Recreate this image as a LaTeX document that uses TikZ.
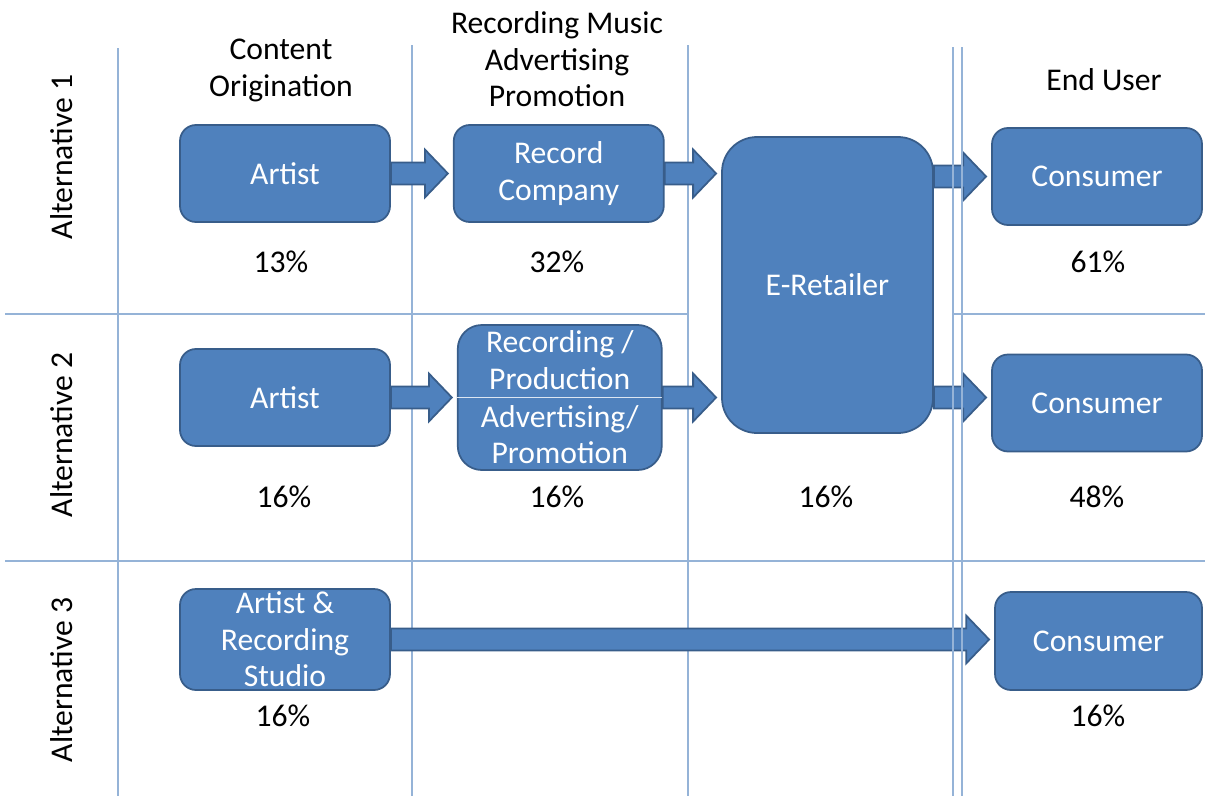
\documentclass[tikz,border=0pt]{standalone}
\usepackage{fontspec}
\setmainfont{Carlito}
\usetikzlibrary{positioning, calc}

\definecolor{boxfill}{HTML}{4F81BD}
\definecolor{boxline}{HTML}{385D8A}
\definecolor{gridc}{HTML}{95B3D7}
\definecolor{splitc}{HTML}{DCE6F2}

% flecha de bloque: del punto #1 hasta la punta en #2
\newcommand{\blockarrow}[2]{%
  \draw[barrow] ($(#1)+(0,-11)$) -- ($(#2)+(-28,-11)$) -- ($(#2)+(-28,-24)$)
     -- ($(#2)+(-5,0)$) -- ($(#2)+(-28,24)$) -- ($(#2)+(-28,11)$)
     -- ($(#1)+(0,11)$) -- cycle;}

\begin{document}
\begin{tikzpicture}[
    x=0.2mm, y=-0.2mm,
    font=\fontsize{18}{20.7}\selectfont,
    node distance = 25mm and 12.4mm,
    % --- estilos ---
    box/.style   = {rectangle, rounded corners=3.2mm, minimum width=42mm,
                    minimum height=19.4mm, align=center, inner sep=0pt,
                    draw=boxline, fill=boxfill, text=white, line width=1pt},
    pct/.style   = {align=center, inner sep=0pt},
    hdr/.style   = {align=center, inner sep=0pt},
    alt/.style   = {rotate=90, inner sep=0pt},
    gridline/.style = {draw=gridc, line width=0.8pt},
    barrow/.style   = {draw=boxline, fill=boxfill, line width=1pt, line join=miter}
]
\useasboundingbox (0,0) rectangle (1205,796);

% ===================== CABECERAS =====================
\node[hdr] (hcont) at (281,70.5) {Content\\Origination};
\node[hdr] (hrec)  at (557,59.5) {Recording Music\\Advertising\\Promotion};
\node[hdr] (hend)  at (1104,80)  {End User};

\node[alt] (alt1) at (62,157) {Alternative 1};
\node[alt] (alt2) at (62,435) {Alternative 2};
\node[alt] (alt3) at (62,680) {Alternative 3};

% ===================== FILA 1 =====================
\node[box] (artA) at (285,173.5) {Artist};
\node[box] (recA) [right=of artA] {Record\\Company};
\node[box, minimum width=42.2mm, minimum height=59.2mm, rounded corners=7mm]
      (eret) at (827.5,285) {E-Retailer};
\node[box] (consA) at (1097,176.5) {Consumer};

% ===================== FILA 2 =====================
\node[box] (artB) at (285,397.5) {Artist};
\node[box, minimum width=40.8mm, minimum height=29mm, rounded corners=4.8mm]
      (recB) [right=13.2mm of artB] {Recording /\\Production\\[1pt]Advertising/\\Promotion};
\node[box] (consB) at (1097,403) {Consumer};

% ===================== FILA 3 =====================
\node[box, minimum height=20.2mm] (artC) at (285,639.5) {Artist \&\\Recording\\Studio};
\node[box, minimum width=41.4mm, minimum height=19.6mm] (consC) at (1098.5,641) {Consumer};

% separador dentro de la caja de produccion
\draw[splitc, line width=0.8pt] (recB.west) -- (recB.east);

% ===================== PORCENTAJES =====================
\node[pct] (pA1) at (281,262) {13\%};
\node[pct] (pA2) at (557,262) {32\%};
\node[pct] (pA4) at (1098,262) {61\%};
\node[pct] (pB1) at (284,497) {16\%};
\node[pct] (pB2) at (557,497) {16\%};
\node[pct] (pB3) at (826,497) {16\%};
\node[pct] (pB4) at (1097,497) {48\%};
\node[pct] (pC1) at (283,716) {16\%};
\node[pct] (pC4) at (1098,716) {16\%};

% ===================== REJILLA =====================
\draw[gridline] (118,48) -- (118,796);
\draw[gridline] (412,45) -- (412,796);
\draw[gridline] (688,45) -- (688,796);
\draw[gridline] (5,314) -- (688,314);
\draw[gridline] (953,314) -- (1205,314);
\draw[gridline] (5,561) -- (1205,561);

% ===================== FLECHAS =====================
\blockarrow{artA.east}{recA.west}
\blockarrow{recA.east}{eret.west |- recA}
\blockarrow{eret.east |- consA}{consA.west}
\blockarrow{artB.east}{recB.west}
\blockarrow{recB.east}{eret.west |- recB}
\blockarrow{eret.east |- recB}{consB.west |- recB}
\blockarrow{artC.east}{consC.west |- artC}

% linea doble por encima de las flechas
\draw[gridline] (953,47) -- (953,796);
\draw[gridline] (962,47) -- (962,796);

\end{tikzpicture}
\end{document}
